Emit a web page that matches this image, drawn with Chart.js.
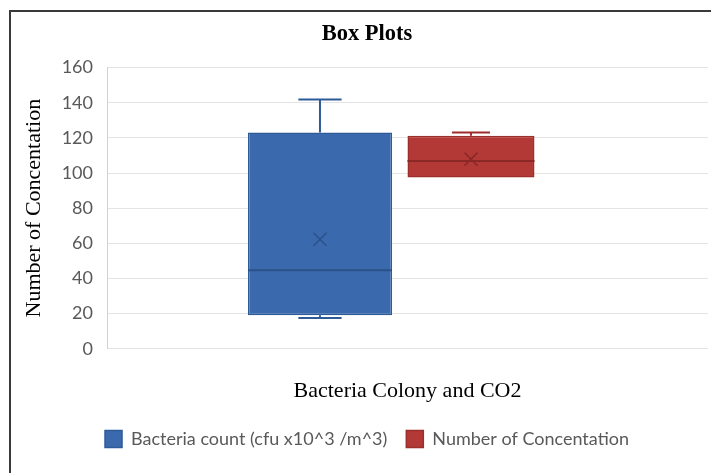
<!DOCTYPE html>
<html>
<head>
<meta charset="utf-8">
<script src="https://cdn.jsdelivr.net/npm/chart.js@4.4.1/dist/chart.umd.min.js"></script>
<style>
  html, body { margin: 0; padding: 0; background: #fff; overflow: hidden; }
  #wrap { position: relative; width: 711px; height: 473px; }
  #frame { position: absolute; left: 9px; top: 10px; width: 800px; height: 600px; border: 2px solid #3a3a3a; }
  #wrap canvas { position: absolute; left: 0; top: 0; }
</style>
</head>
<body>
<div id="wrap">
  <div id="frame"></div>
  <canvas id="boxChart" width="711" height="473"></canvas>
</div>
<script>
// --- datos ---
const categories = ['Bacteria Colony and CO2'];
const seriesNames = ['Bacteria count (cfu x10^3 /m^3)', 'Number of Concentation'];
const mins    = [17.5, 97.5];
const q1s     = [19, 97.5];
const medians = [44.7, 106.8];
const q3s     = [123.1, 121.2];
const maxs    = [141.9, 123.1];
const means   = [62.3, 107.9];
const yTicks  = [0, 20, 40, 60, 80, 100, 120, 140, 160];

const fills   = ['#3a6aad', '#b33936'];
const borders = ['#2e5b98', '#9c2f2c'];
const inner   = ['#2b5189', '#8b2825'];

const labelFont = { family: 'Lato', size: 18 };
const serifFont = { family: 'Liberation Serif', size: 22 };

// bigotes, mediana y media encima de las cajas
const boxExtras = {
  id: 'boxExtras',
  afterDatasetsDraw(chart) {
    const ctx = chart.ctx;
    const y = chart.scales.y;
    chart.data.datasets.forEach((ds, i) => {
      const bar = chart.getDatasetMeta(i).data[0];
      if (!bar) return;
      const cx = bar.x;
      const half = bar.width / 2;
      const cap = bar.width * 0.15;
      ctx.save();
      ctx.strokeStyle = borders[i];
      ctx.lineWidth = 2;
      ctx.beginPath();
      if (maxs[i] > q3s[i]) {
        ctx.moveTo(cx, y.getPixelForValue(q3s[i]));
        ctx.lineTo(cx, y.getPixelForValue(maxs[i]));
        ctx.moveTo(cx - cap, y.getPixelForValue(maxs[i]));
        ctx.lineTo(cx + cap, y.getPixelForValue(maxs[i]));
      }
      if (mins[i] < q1s[i]) {
        ctx.moveTo(cx, y.getPixelForValue(q1s[i]));
        ctx.lineTo(cx, y.getPixelForValue(mins[i]));
        ctx.moveTo(cx - cap, y.getPixelForValue(mins[i]));
        ctx.lineTo(cx + cap, y.getPixelForValue(mins[i]));
      }
      ctx.stroke();

      ctx.strokeStyle = inner[i];
      ctx.beginPath();
      ctx.moveTo(cx - half, y.getPixelForValue(medians[i]));
      ctx.lineTo(cx + half, y.getPixelForValue(medians[i]));
      ctx.stroke();

      const my = y.getPixelForValue(means[i]);
      const s = 6.5;
      ctx.lineWidth = 1.5;
      ctx.beginPath();
      ctx.moveTo(cx - s, my - s); ctx.lineTo(cx + s, my + s);
      ctx.moveTo(cx + s, my - s); ctx.lineTo(cx - s, my + s);
      ctx.stroke();
      ctx.restore();
    });
  }
};

new Chart(document.getElementById('boxChart'), {
  type: 'bar',
  data: {
    labels: categories,
    datasets: seriesNames.map((name, i) => ({
      label: name,
      data: [[q1s[i], q3s[i]]],
      backgroundColor: fills[i],
      borderColor: borders[i],
      borderWidth: 1.5,
      borderSkipped: false,
      categoryPercentage: 0.5025,
      barPercentage: i === 0 ? 0.954 : 0.841
    }))
  },
  options: {
    responsive: false,
    animation: false,
    layout: { padding: { left: 26, right: 3, top: 0, bottom: 15 } },
    plugins: {
      title: {
        display: true,
        text: 'Box Plots',
        color: '#000',
        font: { family: 'Liberation Serif', size: 22.5, weight: 'bold', lineHeight: 1.2 },
        padding: { top: 21.1, bottom: 19.5 }
      },
      legend: {
        position: 'bottom',
        labels: { boxWidth: 17, boxHeight: 17, padding: 19, color: '#595959', font: labelFont }
      },
      tooltip: { enabled: false }
    },
    scales: {
      x: {
        afterBuildTicks: (scale) => { scale._startValue = -0.48; },
        ticks: { display: false },
        grid: { display: false },
        border: { display: false },
        title: {
          display: true,
          text: categories[0],
          color: '#000',
          font: { ...serifFont, lineHeight: 1.2 },
          padding: { top: 21, bottom: 6.9 }
        }
      },
      y: {
        min: 0,
        max: 160,
        afterFit: (scale) => { scale.width = 81; },
        afterBuildTicks: (scale) => { scale.ticks = yTicks.map(v => ({ value: v })); },
        ticks: { color: '#595959', font: labelFont, padding: 14 },
        grid: { color: '#e4e4e4', lineWidth: 1, drawTicks: false },
        border: { display: true, color: '#d2d2d2' },
        title: {
          display: true,
          text: 'Number of Concentation',
          color: '#000',
          font: { ...serifFont, lineHeight: 0.76 },
          padding: { top: 0, bottom: 0 }
        }
      }
    }
  },
  plugins: [boxExtras]
});
</script>
</body>
</html>
